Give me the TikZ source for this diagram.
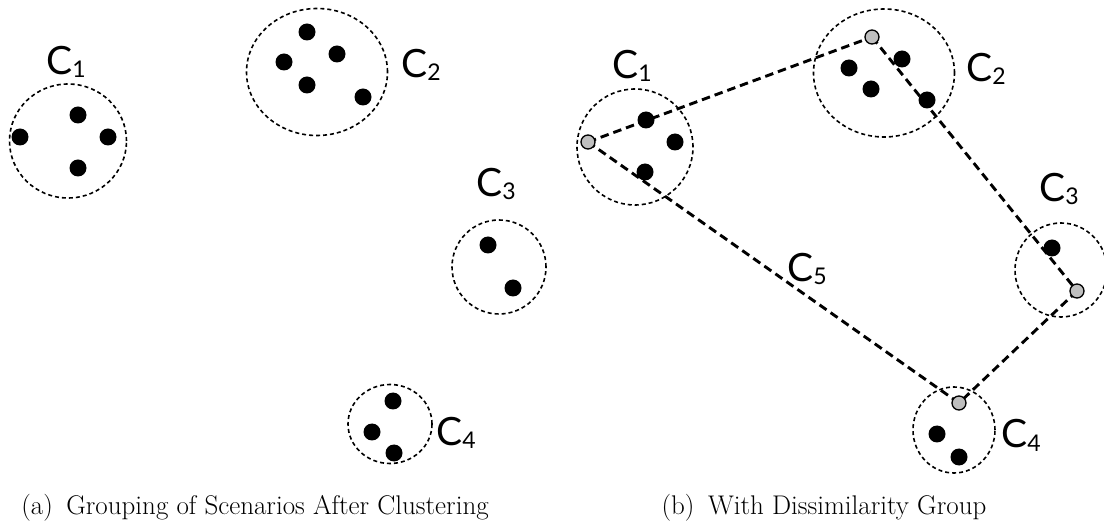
\documentclass[tikz,border=0pt]{standalone}
\usepackage{fontspec}
\newfontfamily\lblfont{Lato}
\usetikzlibrary{shapes.geometric}
\newcommand{\clab}[1]{{\lblfont\fontsize{39}{42}\selectfont C\raisebox{-3pt}{\fontsize{23}{24}\selectfont #1}}}
\tikzset{
  pt/.style={circle, fill=black, inner sep=0pt, minimum size=17pt},
  gpt/.style={circle, fill=black!25, draw=black, line width=1.3pt, inner sep=0pt, minimum size=14pt},
  clus/.style={ellipse, draw=black, line width=1.6pt, dash pattern=on 4pt off 3pt, inner sep=0pt},
  link/.style={line width=2.9pt, dash pattern=on 8.5pt off 5pt},
  lbl/.style={anchor=base west, inner sep=0pt},
  captext/.style={anchor=base, inner sep=0pt, font=\fontsize{27}{32}\selectfont}
}
\begin{document}
\begin{tikzpicture}[x=1pt, y=-1pt]
\useasboundingbox (0,0) rectangle (1104,529);
% ---------- panel (a)
\node[clus, minimum width=117pt, minimum height=114pt] (a1) at (68,141) {};
\node[pt] (a1p1) at (78,115) {};
\node[pt] (a1p2) at (20,137) {};
\node[pt] (a1p3) at (108,137) {};
\node[pt] (a1p4) at (78,168) {};
\node[lbl] (a1l) at (46,75) {\clab{1}};

\node[clus, minimum width=141pt, minimum height=127pt] (a2) at (317,72) {};
\node[pt] (a2p1) at (307,32) {};
\node[pt] (a2p2) at (284,62) {};
\node[pt] (a2p3) at (337,54) {};
\node[pt] (a2p4) at (307,85) {};
\node[pt] (a2p5) at (363,97) {};
\node[lbl] (a2l) at (401,78) {\clab{2}};

\node[clus, minimum width=94pt, minimum height=94pt] (a3) at (499,267) {};
\node[pt] (a3p1) at (488,245) {};
\node[pt] (a3p2) at (513,288) {};
\node[lbl] (a3l) at (476,197) {\clab{3}};

\node[clus, minimum width=84pt, minimum height=79pt] (a4) at (390,424) {};
\node[pt] (a4p1) at (393,401) {};
\node[pt] (a4p2) at (372,432) {};
\node[pt] (a4p3) at (394,453) {};
\node[lbl] (a4l) at (436,446) {\clab{4}};

% ---------- panel (b)
\node[clus, minimum width=116pt, minimum height=116pt] (b1) at (635,147) {};
\node[pt] (b1p1) at (646,120) {};
\node[pt] (b1p2) at (675,142) {};
\node[pt] (b1p3) at (645,172) {};
\node[lbl] (b1l) at (612,79) {\clab{1}};

\node[clus, minimum width=141pt, minimum height=128pt] (b2) at (884,73) {};
\node[pt] (b2p1) at (849,68) {};
\node[pt] (b2p2) at (902,59) {};
\node[pt] (b2p3) at (871,89) {};
\node[pt] (b2p4) at (927,100) {};
\node[lbl] (b2l) at (966,82) {\clab{2}};

\node[clus, minimum width=92pt, minimum height=94pt] (b3) at (1061,270) {};
\node[pt] (b3p1) at (1052,248) {};
\node[lbl] (b3l) at (1039,202) {\clab{3}};

\node[clus, minimum width=82pt, minimum height=86pt] (b4) at (954,430) {};
\node[pt] (b4p1) at (937,434) {};
\node[pt] (b4p2) at (959,457) {};
\node[lbl] (b4l) at (1001,448) {\clab{4}};

\node[lbl] (b5l) at (787,282) {\clab{5}};

% dissimilarity group
\coordinate (g1) at (588,142);
\coordinate (g2) at (872,37);
\coordinate (g3) at (1077,291);
\coordinate (g4) at (959,403);
\draw[link] (g1) -- (g2);
\draw[link] (g2) -- (g3);
\draw[link] (g3) -- (g4);
\draw[link] (g4) -- (g1);
\node[gpt] (gp1) at (g1) {};
\node[gpt] (gp2) at (g2) {};
\node[gpt] (gp3) at (g3) {};
\node[gpt] (gp4) at (g4) {};

% captions
\node[captext] (capa) at (255,514) {(a)\enspace Grouping of Scenarios After Clustering};
\node[captext] (capb) at (824,514) {(b)\enspace With Dissimilarity Group};
\end{tikzpicture}
\end{document}
